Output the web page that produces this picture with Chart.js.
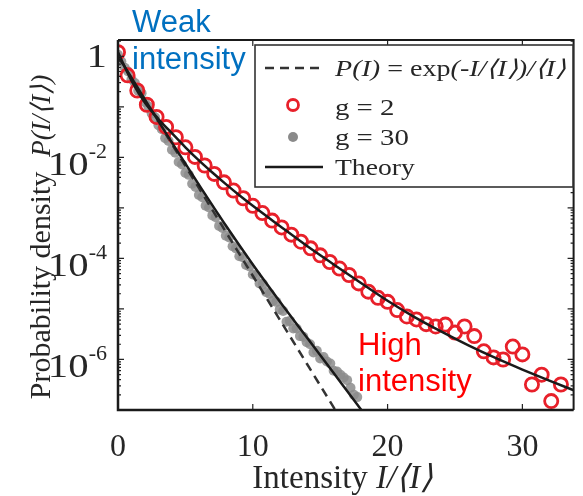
<!DOCTYPE html>
<html>
<head>
<meta charset="utf-8">
<script src="https://cdn.jsdelivr.net/npm/chart.js@4.4.0/dist/chart.umd.min.js"></script>
<style>
  html, body { margin: 0; padding: 0; background: #fff; }
  #wrap { width: 583px; height: 496px; }
</style>
</head>
<body>
<div id="wrap"><canvas id="chart" width="583" height="496"></canvas></div>
<script>
// ---- data ----
const g2Intensity = [0, 0.71, 1.43, 2.14, 2.86, 3.57, 4.29, 5.0, 5.71, 6.43, 7.14, 7.86, 8.57, 9.29, 10.0,
  10.71, 11.43, 12.14, 12.86, 13.57, 14.29, 15.0, 15.71, 16.43, 17.14, 17.86, 18.57, 19.29, 20.0, 20.71,
  21.43, 22.14, 22.86, 23.57, 24.29, 25.0, 25.71, 26.43, 27.14, 27.86, 28.57, 29.29, 30.0, 30.71, 31.43,
  32.14, 32.86];
const g2Density = [1.2, 0.42, 0.21, 0.11, 0.063, 0.040, 0.025, 0.0158, 0.0102, 0.0069, 0.0047, 0.0032,
  0.0022, 0.00155, 0.0011, 7.9e-4, 5.6e-4, 4.1e-4, 2.95e-4, 2.14e-4, 1.58e-4, 1.15e-4, 8.5e-5, 6.3e-5,
  4.7e-5, 3.2e-5, 2.2e-5, 1.66e-5, 1.38e-5, 9.5e-6, 7.1e-6, 6.2e-6, 5.0e-6, 4.5e-6, 4.9e-6, 3.4e-6,
  4.5e-6, 2.9e-6, 1.45e-6, 1.1e-6, 1.0e-6, 1.8e-6, 1.26e-6, 3.2e-7, 5.0e-7, 1.5e-7, 3.2e-7];

const g30Intensity = [0, 0.25, 0.5, 0.75, 1.0, 1.25, 1.5, 1.75, 2.0, 2.25, 2.5, 2.75, 3.0, 3.25, 3.5, 3.75,
  4.0, 4.25, 4.5, 4.75, 5.0, 5.25, 5.5, 5.75, 6.0, 6.25, 6.5, 6.75, 7.0, 7.25, 7.5, 7.75, 8.0, 8.25, 8.5,
  8.75, 9.0, 9.25, 9.5, 9.75, 10.0, 10.25, 10.5, 10.75, 11.0, 11.25, 11.5, 11.75, 12.0, 12.25, 12.5, 12.75,
  13.0, 13.25, 13.5, 13.75, 14.0, 14.25, 14.5, 14.75, 15.0, 15.25, 15.5, 15.75, 16.0, 16.25, 16.5, 16.75,
  17.0, 17.25, 17.5, 17.75];
const g30Density = [1.07, 0.79, 0.59, 0.50, 0.35, 0.295, 0.209, 0.186, 0.123, 0.102, 0.074, 0.062, 0.043,
  0.036, 0.024, 0.021, 0.0141, 0.0123, 0.0081, 0.0072, 0.0049, 0.0045, 0.0030, 0.0026, 0.0018, 0.00162,
  0.0011, 0.00102, 7.1e-4, 6.5e-4, 4.4e-4, 4.0e-4, 2.8e-4, 2.6e-4, 1.74e-4, 1.58e-4, 1.10e-4, 1.05e-4,
  7.4e-5, 6.9e-5, 4.8e-5, 4.6e-5, 3.2e-5, 3.1e-5, 2.14e-5, 2.0e-5, 1.45e-5, 1.38e-5, 9.8e-6, 9.1e-6,
  5.6e-6, 5.8e-6, 4.1e-6, 4.1e-6, 2.9e-6, 2.8e-6, 2.2e-6, 2.0e-6, 1.38e-6, 1.48e-6, 1.05e-6, 1.12e-6,
  9.1e-7, 8.3e-7, 6.0e-7, 5.8e-7, 5.0e-7, 4.4e-7, 3.9e-7, 2.75e-7, 2.0e-7, 1.8e-7];

// P(I) = exp(-I/<I>)/<I>
const expIntensity = [0, 2, 4, 6, 8, 10, 12, 14, 16, 17];
const expDensity = [1, 0.135, 0.0183, 2.48e-3, 3.35e-4, 4.54e-5, 6.14e-6, 8.32e-7, 1.13e-7, 4.14e-8];

const theoryG2Intensity = [0, 1, 2, 3, 4, 5, 6, 7, 8, 9, 10, 12, 14, 16, 18, 20, 22, 24, 26, 28, 30, 32, 34];
const theoryG2Density = [1.2, 0.33, 0.12, 0.0575, 0.030, 0.0158, 0.0087, 0.0050, 0.00295, 0.00178, 0.0011,
  4.4e-4, 1.78e-4, 7.6e-5, 3.3e-5, 1.45e-5, 6.9e-6, 3.55e-6, 1.9e-6, 1.07e-6, 6.3e-7, 3.8e-7, 2.35e-7];

const theoryG30Intensity = [0, 2, 4, 6, 8, 10, 12, 14, 16, 18, 19];
const theoryG30Density = [1.02, 0.138, 0.0195, 2.88e-3, 4.47e-4, 7.59e-5, 1.41e-5, 2.75e-6, 5.37e-7,
  1.05e-7, 4.68e-8];

const xTicks = [0, 10, 20, 30];
const yTicks = [1, 1e-2, 1e-4, 1e-6];
const yTickLabels = [['1', ''], ['10', '-2'], ['10', '-4'], ['10', '-6']];

const pts = (xs, ys) => xs.map((v, i) => ({ x: v, y: ys[i] }));

const SERIF = "'Liberation Serif', Tinos, 'Times New Roman', serif";
const SANS = "'Liberation Sans', Arial, sans-serif";
const INK = '#262626';

// draw a list of text runs starting at x, returns total width
function runs(ctx, list, x, y, sx, measureOnly) {
  let w = 0;
  for (const r of list) {
    ctx.font = r.font;
    const rw = ctx.measureText(r.t).width * sx;
    if (!measureOnly) {
      ctx.save();
      ctx.translate(x + w, y);
      ctx.scale(sx, 1);
      ctx.fillText(r.t, 0, 0);
      ctx.restore();
    }
    w += rw;
  }
  return w;
}

const decor = {
  id: 'decor',
  afterDraw(chart) {
    const { ctx, chartArea: a, scales: { x, y } } = chart;
    ctx.save();

    // ticks (inward, on all four sides)
    ctx.strokeStyle = '#222';
    ctx.lineWidth = 1.2;
    ctx.beginPath();
    for (let d = -7; d <= 0; d++) {
      for (let m = 1; m <= 9; m++) {
        const v = m * Math.pow(10, d);
        if (v < y.min || v > y.max) continue;
        const py = y.getPixelForValue(v);
        const len = m === 1 ? 6 : 3;
        ctx.moveTo(a.left, py); ctx.lineTo(a.left + len, py);
        ctx.moveTo(a.right, py); ctx.lineTo(a.right - len, py);
      }
    }
    xTicks.forEach(t => {
      const px = x.getPixelForValue(t);
      ctx.moveTo(px, a.bottom); ctx.lineTo(px, a.bottom - 6);
      ctx.moveTo(px, a.top); ctx.lineTo(px, a.top + 6);
    });
    ctx.stroke();

    // frame
    ctx.strokeStyle = '#1a1a1a';
    ctx.lineWidth = 2.5;
    ctx.beginPath();
    ctx.moveTo(a.left, a.top); ctx.lineTo(a.left, a.bottom); ctx.lineTo(a.right, a.bottom);
    ctx.stroke();
    ctx.lineWidth = 2;
    ctx.beginPath();
    ctx.moveTo(a.left, a.top); ctx.lineTo(a.right, a.top); ctx.lineTo(a.right, a.bottom);
    ctx.stroke();

    // tick labels
    ctx.fillStyle = INK;
    ctx.textBaseline = 'alphabetic';
    ctx.textAlign = 'center';
    ctx.font = '32px ' + SERIF;
    xTicks.forEach(t => ctx.fillText(String(t), x.getPixelForValue(t), 456));

    ctx.textAlign = 'left';
    yTicks.forEach((t, i) => {
      const py = y.getPixelForValue(t);
      const [base, sup] = yTickLabels[i];
      const right = a.left - 11;
      ctx.font = '22px ' + SERIF;
      const sw = sup ? ctx.measureText(sup).width : 0;
      ctx.font = '34px ' + SERIF;
      const bw = ctx.measureText(base).width * 1.2;
      if (sup) {
        runs(ctx, [{ t: base, font: '34px ' + SERIF }], right - sw - bw, py + 18, 1.2);
        runs(ctx, [{ t: sup, font: '22px ' + SERIF }], right - sw, py + 1, 1);
      } else {
        runs(ctx, [{ t: base, font: '34px ' + SERIF }], right - bw, py + 11, 1.2);
      }
    });

    // axis titles
    const xt = [{ t: 'Intensity ', font: '33px ' + SERIF }, { t: 'I/\u27E8I\u27E9', font: 'italic 33px ' + SERIF }];
    const xw = runs(ctx, xt, 0, 0, 1, true);
    runs(ctx, xt, (a.left + a.right) / 2 - xw / 2 - 3, 488, 1);

    ctx.save();
    ctx.translate(50, 237);
    ctx.rotate(-Math.PI / 2);
    const yt = [{ t: 'Probability density  ', font: '30px ' + SERIF }, { t: 'P(I/\u27E8I\u27E9)', font: 'italic 27px ' + SERIF }];
    const yw = runs(ctx, yt, 0, 0, 1, true);
    runs(ctx, yt, -yw / 2, 0, 1);
    ctx.restore();

    // legend box
    ctx.fillStyle = '#fff';
    ctx.fillRect(255, 45, 318, 142);
    ctx.strokeStyle = '#333';
    ctx.lineWidth = 1.6;
    ctx.strokeRect(255, 45, 318, 142);

    ctx.strokeStyle = '#333';
    ctx.lineWidth = 2.5;
    ctx.setLineDash([9, 6]);
    ctx.beginPath(); ctx.moveTo(265, 68); ctx.lineTo(323, 68); ctx.stroke();
    ctx.setLineDash([]);
    ctx.strokeStyle = '#1a1a1a';
    ctx.beginPath(); ctx.moveTo(265, 167); ctx.lineTo(323, 167); ctx.stroke();

    ctx.strokeStyle = '#e8202a';
    ctx.lineWidth = 2.8;
    ctx.beginPath(); ctx.arc(293, 105, 5.5, 0, Math.PI * 2); ctx.stroke();
    ctx.fillStyle = '#8a8a8a';
    ctx.beginPath(); ctx.arc(293, 137, 5, 0, Math.PI * 2); ctx.fill();

    ctx.fillStyle = INK;
    runs(ctx, [
      { t: 'P(I)', font: 'italic 23px ' + SERIF },
      { t: ' = exp', font: '23px ' + SERIF },
      { t: '(-I/\u27E8I\u27E9)/\u27E8I\u27E9', font: 'italic 23px ' + SERIF }
    ], 335, 76, 1.22);
    runs(ctx, [{ t: 'g = 2', font: '24px ' + SERIF }], 335, 115, 1.2);
    runs(ctx, [{ t: 'g = 30', font: '24px ' + SERIF }], 335, 145, 1.2);
    runs(ctx, [{ t: 'Theory', font: '24px ' + SERIF }], 335, 175, 1.15);

    // annotations
    ctx.fillStyle = '#0070c0';
    runs(ctx, [{ t: 'Weak', font: '31px ' + SANS }], 132, 32, 1);
    runs(ctx, [{ t: 'intensity', font: '31px ' + SANS }], 132, 69, 1);
    ctx.fillStyle = '#ff0000';
    runs(ctx, [{ t: 'High', font: '31px ' + SANS }], 358, 355, 1);
    runs(ctx, [{ t: 'intensity', font: '31px ' + SANS }], 358, 391, 1);

    ctx.restore();
  }
};

function build() {
  new Chart(document.getElementById('chart'), {
    type: 'scatter',
    data: {
      datasets: [
        {
          label: 'Theory g = 2',
          data: pts(theoryG2Intensity, theoryG2Density),
          showLine: true, borderColor: '#1a1a1a', borderWidth: 2.5,
          pointRadius: 0, cubicInterpolationMode: 'monotone', order: 0
        },
        {
          label: 'Theory g = 30',
          data: pts(theoryG30Intensity, theoryG30Density),
          showLine: true, borderColor: '#1a1a1a', borderWidth: 2.5,
          pointRadius: 0, cubicInterpolationMode: 'monotone', order: 0
        },
        {
          label: 'g = 2',
          data: pts(g2Intensity, g2Density),
          pointRadius: 6.6, pointBorderWidth: 2.8, borderColor: '#e8202a',
          backgroundColor: 'rgba(0,0,0,0)', order: 1
        },
        {
          label: 'exp',
          data: pts(expIntensity, expDensity),
          showLine: true, borderColor: '#333', borderWidth: 2.5, borderDash: [9, 6],
          pointRadius: 0, order: 2
        },
        {
          label: 'g = 30',
          data: pts(g30Intensity, g30Density),
          pointRadius: 5, borderWidth: 0, backgroundColor: 'rgba(140,140,140,0.85)', order: 3
        }
      ]
    },
    options: {
      responsive: false,
      animation: false,
      layout: { padding: { left: 118, right: 5, top: 40, bottom: 86 } },
      plugins: { legend: { display: false }, tooltip: { enabled: false } },
      scales: {
        x: { type: 'linear', min: 0, max: 33.8, display: false },
        y: { type: 'logarithmic', min: 1e-7, max: 2.1, display: false }
      }
    },
    plugins: [decor]
  });
}

Promise.all([
  document.fonts.load("30px 'Liberation Serif'"),
  document.fonts.load("italic 30px 'Liberation Serif'"),
  document.fonts.load("30px 'Liberation Sans'")
]).then(build, build);
</script>
</body>
</html>
